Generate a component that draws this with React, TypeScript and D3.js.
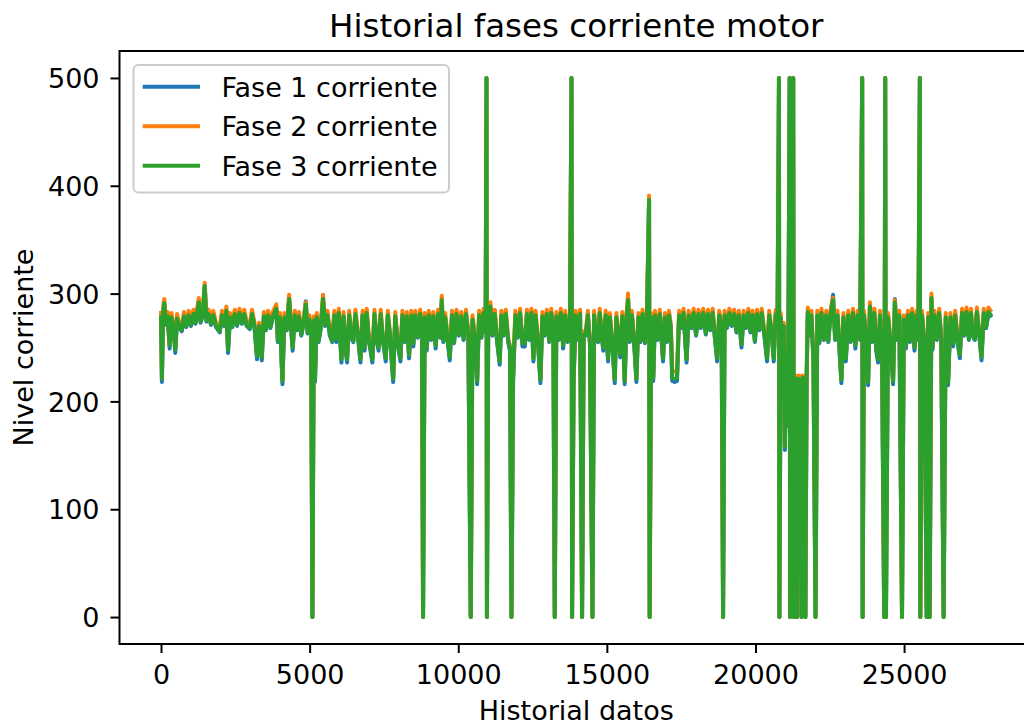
import { useEffect, useRef } from "react";
import * as d3 from "d3";

// sample index of each reading (shared by the three phases)
const idx = [
  0, 30, 70, 110, 160, 220, 290, 350, 420, 480,
  540, 610, 700, 770, 850, 930, 1010, 1090, 1160, 1270,
  1330, 1400, 1470, 1530, 1600, 1680, 1760, 1850, 1975, 2050,
  2130, 2200, 2255, 2320, 2400, 2480, 2560, 2640, 2720, 2800,
  2880, 2985, 3060, 3140, 3230, 3300, 3390, 3460, 3530, 3600,
  3680, 3760, 3880, 3930, 4000, 4085, 4150, 4230, 4310, 4370,
  4430, 4500, 4570, 4640, 4720, 4800, 4870, 4930, 4990, 5050,
  5094, 5140, 5180, 5240, 5300, 5370, 5450, 5520, 5600, 5680,
  5760, 5830, 5900, 5980, 6070, 6140, 6200, 6260, 6330, 6400,
  6470, 6540, 6620, 6710, 6780, 6850, 6920, 6990, 7110, 7180,
  7250, 7320, 7390, 7470, 7560, 7630, 7700, 7810, 7880, 7960,
  8055, 8120, 8200, 8270, 8345, 8420, 8490, 8560, 8640, 8720,
  8780, 8816, 8870, 8940, 9010, 9090, 9160, 9240, 9320, 9400,
  9445, 9500, 9560, 9640, 9715, 9790, 9860, 9940, 10020, 10100,
  10180, 10260, 10340, 10420, 10480, 10560, 10635, 10700, 10780, 10850,
  10920, 10950, 10965, 11010, 11080, 11150, 11230, 11300, 11395, 11450,
  11520, 11600, 11680, 11740, 11790, 11845, 11920, 12000, 12080, 12160,
  12240, 12310, 12390, 12460, 12530, 12600, 12680, 12765, 12830, 12900,
  12980, 13060, 13130, 13200, 13247, 13300, 13380, 13450, 13530, 13600,
  13680, 13760, 13810, 13830, 13880, 13950, 14030, 14100, 14166, 14220,
  14290, 14360, 14430, 14515, 14570, 14640, 14705, 14760, 14820, 14880,
  14960, 15040, 15100, 15180, 15265, 15320, 15390, 15450, 15520, 15600,
  15660, 15713, 15770, 15840, 15910, 15995, 16060, 16130, 16200, 16280,
  16350, 16420, 16440, 16490, 16560, 16620, 16700, 16780, 16890, 16950,
  17020, 17090, 17150, 17200, 17280, 17360, 17430, 17500, 17580, 17680,
  17750, 17850, 17920, 18000, 18080, 18160, 18240, 18330, 18400, 18480,
  18560, 18640, 18710, 18780, 18860, 18910, 18960, 19040, 19120, 19200,
  19280, 19360, 19440, 19530, 19600, 19680, 19760, 19830, 19900, 19980,
  20050, 20130, 20210, 20300, 20390, 20460, 20540, 20615, 20680, 20740,
  20790, 20805, 20850, 20900, 20950, 20990, 21030, 21070, 21110, 21150,
  21165, 21200, 21230, 21270, 21290, 21330, 21400, 21440, 21520, 21550,
  21590, 21640, 21680, 21720, 21760, 21820, 21880, 21950, 22020, 22080,
  22150, 22220, 22300, 22380, 22450, 22530, 22610, 22680, 22760, 22890,
  22960, 23040, 23120, 23200, 23280, 23360, 23440, 23520, 23590, 23605,
  23650, 23720, 23790, 23850, 23920, 24000, 24060, 24125, 24190, 24260,
  24330, 24365, 24390, 24460, 24540, 24630, 24690, 24760, 24840, 24930,
  24990, 25060, 25130, 25200, 25270, 25350, 25420, 25480, 25530, 25545,
  25600, 25680, 25760, 25810, 25860, 25920, 25960, 26020, 26100, 26180,
  26250, 26330, 26400, 26480, 26560, 26650, 26720, 26800, 26875, 26950,
  27020, 27100, 27180, 27250, 27300, 27380, 27450, 27530, 27605, 27680,
  27760, 27840, 27940,
];

const fase1 = [
  279, 218, 282, 290, 271, 278, 249, 277, 267, 245,
  276, 269, 265, 278, 269, 279, 270, 280, 272, 291,
  273, 279, 306, 274, 280, 271, 279, 269, 264, 279,
  270, 283, 245, 277, 269, 280, 270, 281, 272, 280,
  270, 267, 280, 270, 239, 269, 238, 278, 266, 279,
  268, 278, 285, 255, 277, 216, 277, 266, 294, 270,
  247, 279, 266, 278, 261, 273, 293, 263, 275, 261,
  0, 274, 218, 277, 255, 267, 294, 270, 279, 261,
  255, 279, 255, 281, 236, 278, 249, 236, 279, 259,
  255, 280, 261, 236, 279, 247, 281, 257, 236, 280,
  257, 247, 280, 255, 237, 279, 261, 218, 278, 254,
  237, 279, 255, 278, 240, 279, 251, 279, 259, 280,
  261, 0, 277, 247, 279, 257, 278, 249, 280, 259,
  293, 255, 277, 257, 238, 279, 254, 280, 261, 278,
  257, 280, 261, 0, 275, 257, 216, 279, 259, 281,
  264, 500, 0, 279, 287, 261, 280, 257, 234, 279,
  261, 280, 255, 247, 0, 218, 279, 259, 281, 251,
  251, 280, 257, 281, 237, 279, 255, 217, 278, 261,
  280, 255, 281, 261, 0, 278, 257, 281, 249, 279,
  255, 277, 500, 0, 217, 279, 257, 280, 0, 261,
  261, 279, 254, 0, 279, 259, 255, 281, 261, 247,
  279, 237, 277, 254, 217, 277, 257, 241, 278, 216,
  275, 293, 255, 279, 257, 218, 277, 255, 280, 254,
  279, 386, 0, 277, 219, 279, 257, 280, 237, 277,
  255, 279, 268, 219, 218, 219, 279, 268, 281, 236,
  279, 268, 281, 261, 280, 268, 281, 262, 280, 266,
  281, 257, 237, 279, 268, 0, 279, 268, 281, 270,
  280, 264, 279, 250, 279, 268, 281, 264, 279, 255,
  280, 266, 281, 261, 237, 279, 264, 237, 280, 266,
  500, 0, 277, 227, 269, 155, 237, 177, 274, 500,
  0, 269, 197, 500, 0, 219, 0, 218, 217, 0,
  219, 217, 0, 218, 282, 261, 279, 237, 0, 279,
  254, 281, 257, 279, 255, 281, 299, 257, 279, 217,
  277, 237, 279, 255, 281, 249, 279, 257, 500, 0,
  279, 257, 215, 287, 255, 281, 247, 236, 279, 237,
  0, 500, 0, 277, 254, 216, 295, 257, 279, 0,
  275, 249, 279, 255, 281, 247, 279, 257, 500, 0,
  279, 255, 0, 277, 0, 295, 248, 279, 257, 281,
  257, 0, 277, 215, 277, 251, 279, 255, 240, 281,
  261, 282, 257, 281, 261, 257, 282, 261, 238, 281,
  268, 282, 278,
];

const fase2 = [
  284, 222, 287, 295, 275, 283, 253, 282, 271, 249,
  281, 273, 269, 283, 273, 284, 274, 285, 276, 296,
  277, 284, 310, 279, 285, 275, 284, 273, 268, 284,
  274, 288, 249, 282, 273, 285, 274, 286, 276, 285,
  274, 271, 285, 274, 243, 273, 242, 283, 270, 284,
  272, 283, 290, 259, 282, 220, 282, 270, 299, 274,
  251, 284, 270, 283, 265, 277, 292, 267, 280, 265,
  0, 279, 222, 282, 259, 271, 299, 274, 284, 265,
  259, 284, 261, 286, 240, 283, 253, 240, 284, 263,
  259, 285, 265, 240, 284, 251, 286, 261, 240, 285,
  261, 251, 285, 259, 241, 284, 265, 222, 283, 258,
  241, 284, 259, 283, 244, 284, 255, 284, 263, 285,
  265, 0, 282, 251, 284, 261, 283, 253, 285, 263,
  298, 259, 282, 261, 242, 284, 258, 285, 265, 283,
  261, 285, 265, 0, 280, 261, 220, 284, 263, 286,
  268, 500, 0, 284, 292, 265, 285, 261, 238, 284,
  265, 285, 259, 251, 0, 222, 284, 263, 286, 255,
  255, 285, 261, 286, 241, 284, 259, 222, 283, 265,
  285, 259, 286, 265, 0, 283, 261, 286, 253, 284,
  259, 282, 500, 0, 221, 284, 261, 285, 0, 265,
  265, 284, 258, 0, 284, 263, 259, 286, 265, 251,
  284, 241, 282, 258, 221, 282, 261, 245, 283, 220,
  280, 300, 259, 284, 261, 222, 282, 259, 285, 258,
  284, 391, 0, 282, 223, 284, 261, 285, 241, 282,
  259, 284, 272, 228, 228, 228, 284, 272, 286, 240,
  284, 272, 286, 265, 285, 272, 286, 266, 285, 270,
  286, 261, 241, 284, 272, 0, 284, 272, 286, 274,
  285, 268, 284, 254, 284, 272, 286, 268, 284, 259,
  285, 270, 286, 265, 241, 284, 268, 241, 285, 270,
  500, 0, 282, 231, 273, 159, 241, 181, 279, 500,
  0, 273, 201, 500, 0, 224, 0, 224, 223, 0,
  224, 223, 0, 224, 287, 265, 284, 241, 0, 284,
  258, 286, 261, 284, 259, 286, 296, 261, 284, 221,
  282, 241, 284, 259, 286, 253, 284, 261, 500, 0,
  284, 261, 219, 292, 259, 286, 251, 240, 284, 241,
  0, 500, 0, 282, 258, 220, 294, 261, 284, 0,
  280, 253, 284, 259, 286, 251, 284, 261, 500, 0,
  284, 259, 0, 282, 0, 300, 252, 284, 261, 286,
  261, 0, 282, 219, 282, 255, 284, 259, 244, 286,
  265, 287, 261, 286, 265, 261, 287, 265, 242, 286,
  272, 287, 283,
];

const fase3 = [
  280, 221, 283, 291, 272, 279, 252, 278, 268, 248,
  277, 270, 266, 279, 270, 280, 271, 281, 273, 292,
  274, 280, 307, 275, 281, 272, 280, 270, 265, 280,
  271, 284, 248, 278, 270, 281, 271, 282, 273, 281,
  271, 268, 281, 271, 242, 270, 241, 279, 267, 280,
  269, 279, 286, 256, 278, 219, 278, 267, 295, 271,
  250, 280, 267, 279, 262, 274, 290, 264, 276, 262,
  0, 275, 221, 278, 256, 268, 295, 271, 280, 262,
  256, 280, 258, 282, 239, 279, 252, 239, 280, 260,
  256, 281, 262, 239, 280, 250, 282, 258, 239, 281,
  258, 250, 281, 256, 240, 280, 262, 221, 279, 255,
  240, 280, 256, 279, 243, 280, 254, 280, 260, 281,
  262, 0, 278, 250, 280, 258, 279, 252, 281, 260,
  294, 256, 278, 258, 241, 280, 255, 281, 262, 279,
  258, 281, 262, 0, 276, 258, 219, 280, 260, 282,
  265, 500, 0, 280, 288, 262, 281, 258, 237, 280,
  262, 281, 256, 250, 0, 221, 280, 260, 282, 254,
  254, 281, 258, 282, 240, 280, 256, 220, 279, 262,
  281, 256, 282, 262, 0, 279, 258, 282, 252, 280,
  256, 278, 500, 0, 220, 280, 258, 281, 0, 262,
  262, 280, 255, 0, 280, 260, 256, 282, 262, 250,
  280, 240, 278, 255, 220, 278, 258, 244, 279, 219,
  276, 294, 256, 280, 258, 221, 278, 256, 281, 255,
  280, 387, 0, 278, 222, 280, 258, 281, 240, 278,
  256, 280, 269, 222, 221, 222, 280, 269, 282, 239,
  280, 269, 282, 262, 281, 269, 282, 263, 281, 267,
  282, 258, 240, 280, 269, 0, 280, 269, 282, 271,
  281, 265, 280, 253, 280, 269, 282, 265, 280, 256,
  281, 267, 282, 262, 240, 280, 265, 240, 281, 267,
  500, 0, 278, 230, 270, 158, 240, 180, 275, 500,
  0, 270, 200, 500, 0, 222, 0, 221, 220, 0,
  222, 220, 0, 221, 283, 262, 280, 240, 0, 280,
  255, 282, 258, 280, 256, 282, 294, 258, 280, 220,
  278, 240, 280, 256, 282, 252, 280, 258, 500, 0,
  280, 258, 218, 288, 256, 282, 250, 239, 280, 240,
  0, 500, 0, 278, 255, 219, 292, 258, 280, 0,
  276, 252, 280, 256, 282, 250, 280, 258, 500, 0,
  280, 256, 0, 278, 0, 296, 251, 280, 258, 282,
  258, 0, 278, 218, 278, 254, 280, 256, 243, 282,
  262, 283, 258, 282, 262, 258, 283, 262, 241, 282,
  269, 283, 279,
];

const seriesNames = ["Fase 1 corriente", "Fase 2 corriente", "Fase 3 corriente"];
const seriesColors = ["#1f77b4", "#ff7f0e", "#2ca02c"];
const xTicks = [0, 5000, 10000, 15000, 20000, 25000];
const yTicks = [0, 100, 200, 300, 400, 500];

export default function App() {
  const svgRef = useRef<SVGSVGElement | null>(null);

  useEffect(() => {
    if (!svgRef.current) return;
    const svg = d3.select(svgRef.current);
    svg.selectAll("*").remove();
    const font = "DejaVu Sans, Verdana, sans-serif";
    const fs = 27;
    const lw = 4;
    // plot box (right spine falls just outside the picture)
    const box = { left: 119.5, right: 1033, top: 51, bottom: 644 };

    const xMax = d3.max(idx) ?? 0;
    const x = d3
      .scaleLinear()
      .domain([-xMax * 0.05, xMax * 1.05])
      .range([box.left, box.right]);
    const y = d3.scaleLinear().domain([-25, 525]).range([box.bottom, box.top]);

    svg.append("rect").attr("width", 1024).attr("height", 725).attr("fill", "#fff");

    svg
      .append("clipPath")
      .attr("id", "plot-clip")
      .append("rect")
      .attr("x", box.left)
      .attr("y", box.top)
      .attr("width", box.right - box.left)
      .attr("height", box.bottom - box.top);

    const line = d3
      .line<number>()
      .x((_, i) => x(idx[i]))
      .y((d) => y(d));

    const plot = svg.append("g").attr("clip-path", "url(#plot-clip)");
    [fase1, fase2, fase3].forEach((vals, k) => {
      plot
        .append("path")
        .datum(vals)
        .attr("d", line)
        .attr("fill", "none")
        .attr("stroke", seriesColors[k])
        .attr("stroke-width", lw)
        .attr("stroke-linejoin", "round")
        .attr("stroke-linecap", "butt");
    });

    // spines
    svg
      .append("rect")
      .attr("x", box.left)
      .attr("y", box.top)
      .attr("width", box.right - box.left)
      .attr("height", box.bottom - box.top)
      .attr("fill", "none")
      .attr("stroke", "#000")
      .attr("stroke-width", 2);

    // x axis
    const gx = svg
      .append("g")
      .attr("transform", `translate(0,${box.bottom})`)
      .call(
        d3.axisBottom(x).tickValues(xTicks).tickSize(9).tickSizeOuter(0).tickFormat(d3.format("d"))
      );
    gx.select(".domain").remove();
    gx.selectAll("line").attr("stroke", "#000").attr("stroke-width", 2);
    gx.selectAll("text")
      .attr("y", 40)
      .attr("dy", null)
      .attr("fill", "#000")
      .style("font-family", font)
      .style("font-size", `${fs}px`);

    // y axis
    const gy = svg
      .append("g")
      .attr("transform", `translate(${box.left},0)`)
      .call(d3.axisLeft(y).tickValues(yTicks).tickSize(9).tickSizeOuter(0));
    gy.select(".domain").remove();
    gy.selectAll("line").attr("stroke", "#000").attr("stroke-width", 2);
    gy.selectAll("text")
      .attr("x", -20)
      .attr("dy", "0.36em")
      .attr("fill", "#000")
      .style("font-family", font)
      .style("font-size", `${fs}px`);

    // title and axis labels
    const mid = (box.left + box.right) / 2;
    svg
      .append("text")
      .attr("x", mid)
      .attr("y", 37)
      .attr("text-anchor", "middle")
      .style("font-family", font)
      .style("font-size", "32.5px")
      .text("Historial fases corriente motor");
    svg
      .append("text")
      .attr("x", mid)
      .attr("y", 720)
      .attr("text-anchor", "middle")
      .style("font-family", font)
      .style("font-size", `${fs}px`)
      .text("Historial datos");
    svg
      .append("text")
      .attr("transform", `translate(33,${(box.top + box.bottom) / 2}) rotate(-90)`)
      .attr("text-anchor", "middle")
      .style("font-family", font)
      .style("font-size", `${fs}px`)
      .text("Nivel corriente");

    // legend
    const lg = svg.append("g");
    lg.append("rect")
      .attr("x", 133.5)
      .attr("y", 65)
      .attr("width", 315.5)
      .attr("height", 127.5)
      .attr("rx", 5)
      .attr("fill", "#fff")
      .attr("fill-opacity", 0.8)
      .attr("stroke", "#cccccc")
      .attr("stroke-width", 2);
    seriesNames.forEach((name, k) => {
      const ly = 86.7 + k * 39.5;
      lg.append("line")
        .attr("x1", 142.7)
        .attr("x2", 200)
        .attr("y1", ly)
        .attr("y2", ly)
        .attr("stroke", seriesColors[k])
        .attr("stroke-width", lw);
      lg.append("text")
        .attr("x", 221.5)
        .attr("y", ly + 10)
        .style("font-family", font)
        .style("font-size", `${fs}px`)
        .text(name);
    });
  }, []);

  return (
    <svg
      ref={svgRef}
      width={1024}
      height={725}
      style={{ position: "absolute", left: 0, top: 0 }}
    />
  );
}
